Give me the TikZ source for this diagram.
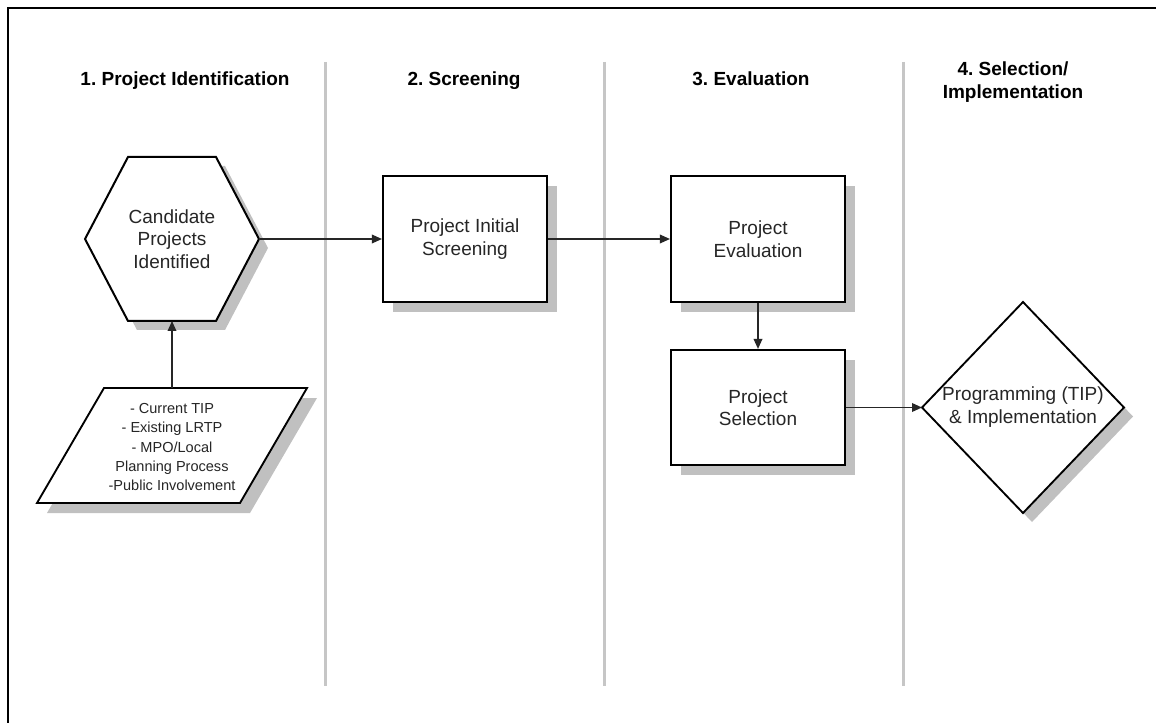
\documentclass[tikz,border=0pt]{standalone}
\usepackage{fontspec}
\setmainfont{Liberation Sans}
\usetikzlibrary{arrows.meta,shadows}
\definecolor{shade}{HTML}{C0C0C0}
\definecolor{lanegray}{HTML}{C6C6C6}
\definecolor{ink}{HTML}{262626}
\newcommand\mybodyfont{\fontsize{14.25}{16.9}\selectfont}
\newcommand\mysmallfont{\fontsize{10.9}{14.5}\selectfont}
\newcommand\myheadfont{\fontsize{14.25}{17.2}\selectfont\bfseries}
\frenchspacing
\begin{document}
\begin{tikzpicture}[x=0.75pt,y=-0.75pt,
  boxshadow/.style={drop shadow={shadow xshift=7.5pt,shadow yshift=-7.5pt,fill=shade,opacity=1}},
  stepbox/.style={draw=black,line width=1.6pt,fill=white,align=center,inner sep=0pt,
    font=\mybodyfont,text=ink,boxshadow},
  txt/.style={align=center,inner sep=0pt,font=\mybodyfont,text=ink},
  smalltxt/.style={align=center,inner sep=0pt,font=\mysmallfont,text=ink},
  head/.style={align=center,inner sep=0pt,font=\myheadfont,text=black},
  outline/.style={draw=black,line width=1.5pt,fill=white,line join=miter},
  shadowfill/.style={fill=shade},
  lane/.style={draw=lanegray,line width=2.25pt},
  arr/.style={draw=ink,line width=1pt,-{Triangle[length=7.5pt,width=6.5pt]}},
  frame/.style={draw=black,line width=1.9pt}
]
\useasboundingbox (0,0) rectangle (1156,723);
\fill[white] (0,0) rectangle (1156,723);

% frame
\draw[frame] (8,723) -- (8,8) -- (1156,8);

% lane dividers
\draw[lane] (325,62) -- (325,686);
\draw[lane] (604,62) -- (604,686);
\draw[lane] (903,62) -- (903,686);

% headers
\node[head,anchor=base] (h1) at (185,86) {1. Project Identification};
\node[head,anchor=base] (h2) at (464,86) {2. Screening};
\node[head,anchor=base] (h3) at (751,86) {3. Evaluation};
\node[head] (h4) at (1013,82) {4. Selection/\\Implementation};

% hexagon: Candidate Projects Identified
\fill[shadowfill,shift={(9,9)}] (85,239) -- (128,157) -- (216,157) -- (259,239) -- (216,321) -- (128,321) -- cycle;
\draw[outline] (85,239) -- (128,157) -- (216,157) -- (259,239) -- (216,321) -- (128,321) -- cycle;
\node[txt] (cand) at (172,239) {Candidate\\Projects\\Identified};
\coordinate (candE) at (259,239);
\coordinate (candS) at (172,321);

% parallelogram: inputs
\fill[shadowfill,shift={(10,10)}] (104,388) -- (307,388) -- (240,503) -- (37,503) -- cycle;
\draw[outline,line width=1.4pt] (104,388) -- (307,388) -- (240,503) -- (37,503) -- cycle;
\node[smalltxt] (inputs) at (172,447) {- Current TIP\\- Existing LRTP\\- MPO/Local\\Planning Process\\-Public Involvement};
\coordinate (inputsN) at (172,388);

% boxes
\node[stepbox,minimum width=123pt,minimum height=94.5pt] (screen) at (465,239) {Project Initial\\Screening};
\node[stepbox,minimum width=130.5pt,minimum height=94.5pt] (eval) at (758,239) {Project\\Evaluation};
\node[stepbox,minimum width=130.5pt,minimum height=86.25pt] (sel) at (758,407.5) {Project\\Selection};

% diamond
\fill[shadowfill,shift={(9,9)}] (1023,302) -- (1124,407.5) -- (1023,513) -- (922,407.5) -- cycle;
\draw[outline,line width=1.4pt] (1023,302) -- (1124,407.5) -- (1023,513) -- (922,407.5) -- cycle;
\node[txt] (prog) at (1023,407) {Programming (TIP)\\\& Implementation};
\coordinate (progW) at (922,407.5);

% connectors
\draw[arr] (candE) -- (screen);
\draw[arr] (screen) -- (eval);
\draw[arr] (eval) -- (sel);
\draw[arr] (sel.east) -- (progW);
\draw[arr] (inputsN) -- (candS);
\end{tikzpicture}
\end{document}
